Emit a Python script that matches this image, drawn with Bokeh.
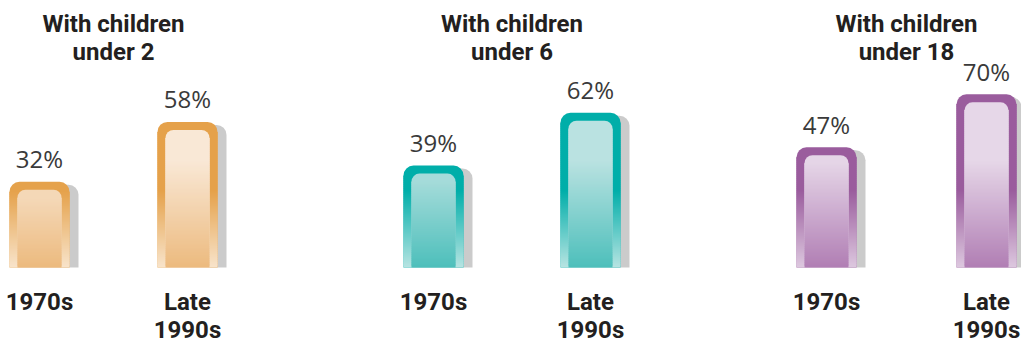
from bokeh.plotting import figure
from bokeh.models import Range1d, ColumnDataSource
from bokeh.core.properties import value
from bokeh.embed import file_html
from bokeh.resources import INLINE

# ---- data ----
groups = ["With children\nunder 2", "With children\nunder 6", "With children\nunder 18"]
periods = ["1970s", "Late\n1990s"]
values_1970s = [32, 39, 47]
values_late_1990s = [58, 62, 70]

# ---- style ----
families = [
    dict(b_top="#E5A14A", b_bot="#F8E4CB", i_top="#F9E8D6", i_bot="#ECBA7E"),
    dict(b_top="#00AEA9", b_bot="#B7E4E2", i_top="#BAE2E1", i_bot="#4DBFBB"),
    dict(b_top="#9A5C9D", b_bot="#DDC8DF", i_top="#E6D7E8", i_bot="#B07EB4"),
]
PX = 2.3            # pixels per percentage point
Y0_SY = 254.8       # screen y of value 0
BASE = -5.3         # bar bottom (units)
GROUP_X = [39, 433, 826]       # layout: left bar centre of each group
BAR_STEPS = [148, 157, 160]    # layout: distance between the two bars of a group
BAR_W, INNER_W = 60, 44
W, H = 1021, 344


def v_of_sy(sy):
    return (Y0_SY - sy) / PX


def px(n):
    return n / PX


def hex2rgb(h):
    h = h.lstrip("#")
    return [int(h[i:i + 2], 16) for i in (0, 2, 4)]


def lerp(c1, c2, t):
    a, b = hex2rgb(c1), hex2rgb(c2)
    t = max(0.0, min(1.0, t))
    return "#%02x%02x%02x" % tuple(int(round(a[i] + (b[i] - a[i]) * t)) for i in range(3))


B_FADE = v_of_sy(190)
I_FADE = v_of_sy(160)


def border_col(f, v):
    return lerp(f["b_top"], f["b_bot"], (B_FADE - v) / (B_FADE - BASE))


def inner_col(f, v):
    return lerp(f["i_top"], f["i_bot"], (I_FADE - v) / (I_FADE - BASE))


p = figure(width=W, height=H, x_range=Range1d(0, W),
           y_range=Range1d(v_of_sy(H), v_of_sy(0)),
           x_axis_type=None, y_axis_type=None,
           output_backend="svg", toolbar_location=None, min_border=0)
p.grid.visible = False
p.outline_line_color = None
p.background_fill_color = "white"
p.border_fill_color = "white"

sh = dict(x=[], top=[])
outer = dict(x=[], top=[], color=[])
inner = dict(x=[], top=[], color=[])
osl = dict(left=[], right=[], bottom=[], top=[], color=[])
isl = dict(left=[], right=[], bottom=[], top=[], color=[])
lab = dict(x=[], y=[], text=[])
cat = dict(x=[], text=[])

STEP = px(2)
OVER = px(1.2)


def add_slices(dst, x, w, top_lim, colfn):
    y = BASE
    while y < top_lim:
        t = min(y + STEP, top_lim)
        dst["left"].append(x - w / 2); dst["right"].append(x + w / 2)
        dst["bottom"].append(y); dst["top"].append(min(t + OVER, top_lim))
        dst["color"].append(colfn((y + t) / 2))
        y = t


title_x = []
for g in range(len(groups)):
    f = families[g]
    title_x.append(GROUP_X[g] + BAR_STEPS[g] / 2)
    for b, vals in enumerate([values_1970s, values_late_1990s]):
        v = vals[g]
        x = GROUP_X[g] + b * BAR_STEPS[g]
        sh["x"].append(x + 9)
        sh["top"].append(v - px(3))
        o_cap = v - px(10)
        outer["x"].append(x)
        outer["top"].append(v)
        outer["color"].append(border_col(f, o_cap))
        i_top = v - px(8)
        i_cap = i_top - px(8)
        inner["x"].append(x)
        inner["top"].append(i_top)
        inner["color"].append(inner_col(f, i_cap))
        add_slices(osl, x, BAR_W, o_cap, lambda yy, f=f: border_col(f, yy))
        add_slices(isl, x, INNER_W, i_cap, lambda yy, f=f: inner_col(f, yy))
        lab["x"].append(x); lab["y"].append(v); lab["text"].append(f"{v}%")
        cat["x"].append(x); cat["text"].append(periods[b])

p.vbar(x="x", top="top", bottom=BASE, width=BAR_W, source=ColumnDataSource(sh),
       fill_color="#CBCBCB", line_color=None, border_radius=(10, 10, 0, 0))
p.vbar(x="x", top="top", bottom=BASE, width=BAR_W, source=ColumnDataSource(outer),
       fill_color="color", line_color=None, border_radius=(10, 10, 0, 0))
p.quad(left="left", right="right", bottom="bottom", top="top", source=ColumnDataSource(osl),
       fill_color="color", line_color=None)
p.vbar(x="x", top="top", bottom=BASE, width=INNER_W, source=ColumnDataSource(inner),
       fill_color="color", line_color=None, border_radius=(8, 8, 0, 0))
p.quad(left="left", right="right", bottom="bottom", top="top", source=ColumnDataSource(isl),
       fill_color="color", line_color=None)

p.text(x="x", y="y", text="text", source=ColumnDataSource(lab), text_align="center",
       text_baseline="alphabetic", y_offset=-23, text_font=value("Open Sans"),
       text_font_size="24px", text_color="#3a3a3a")

p.text(x=title_x, y=[v_of_sy(9)] * len(groups), text=groups, text_align="center",
       text_baseline="top", text_font=value("Roboto"), text_font_style="bold",
       text_font_size="24px", text_line_height=1.03, text_color="#231F20")

p.text(x="x", y=v_of_sy(287), text="text", source=ColumnDataSource(cat), text_align="center",
       text_baseline="top", text_font=value("Roboto"), text_font_style="bold",
       text_font_size="24px", text_line_height=1.0, text_color="#231F20")

open("out.html", "w").write(file_html(p, INLINE))
